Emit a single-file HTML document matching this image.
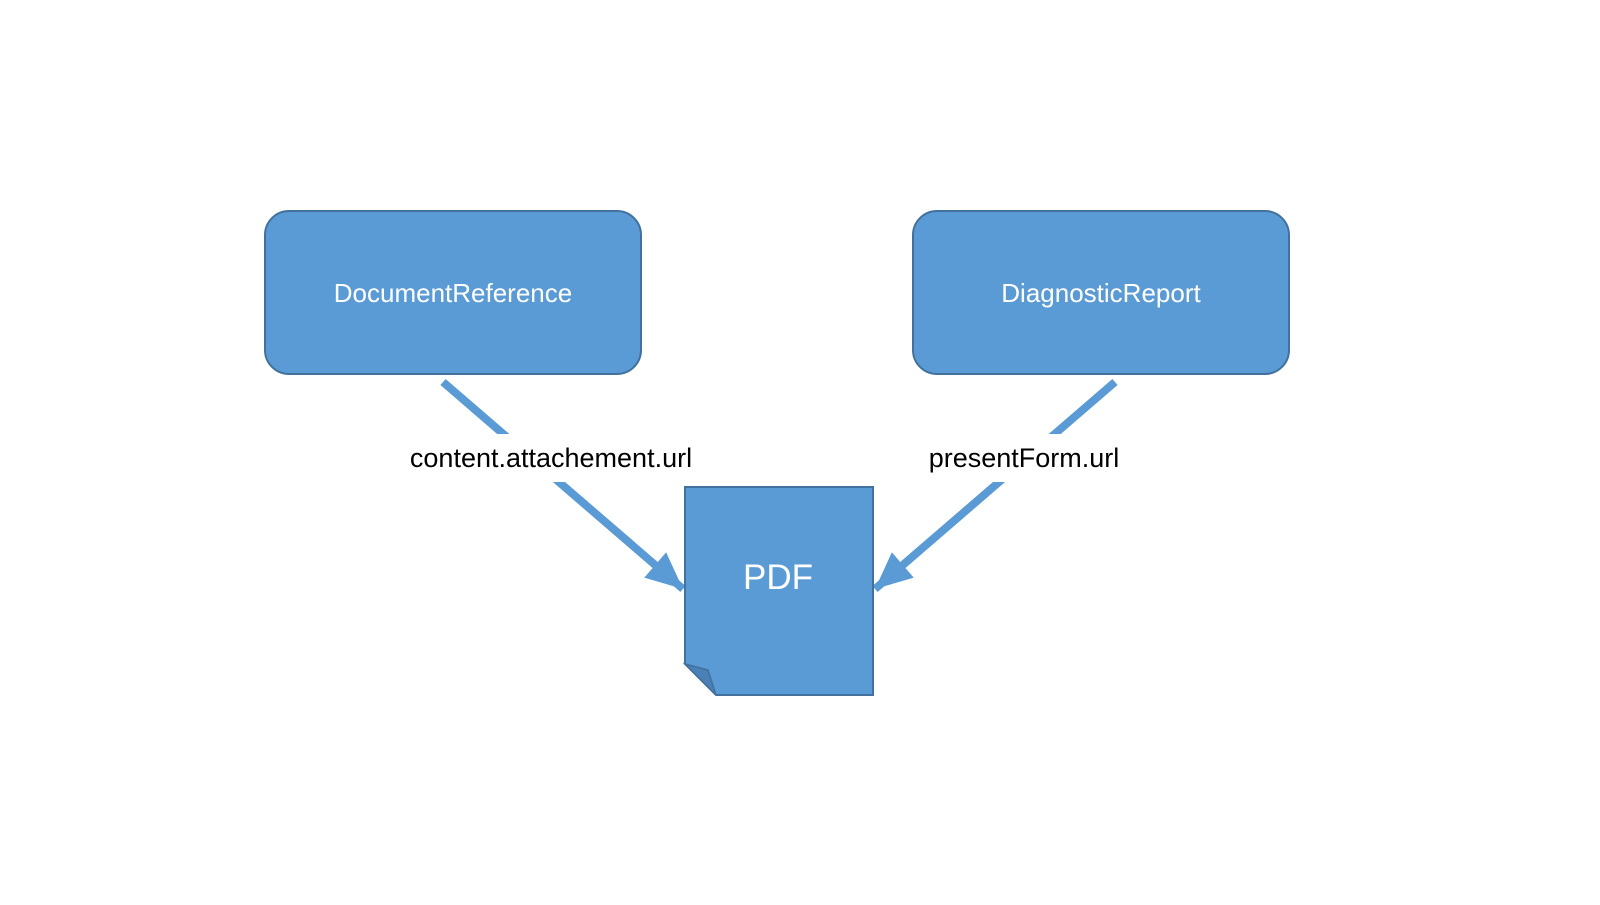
<!DOCTYPE html>
<html><head><style>body{margin:0;background:#fff}</style></head><body>
<svg width="1600" height="900" xmlns="http://www.w3.org/2000/svg" font-family="'Liberation Sans', sans-serif">
<defs><marker id="a" markerWidth="6" markerHeight="6" refX="4.6" refY="3" orient="auto" markerUnits="strokeWidth"><path d="M0,0.9 L4.6,3 L0,5.1 z" fill="#5b9bd5"/></marker></defs>
<rect x="265" y="211" width="376" height="163" rx="24" fill="#5b9bd5" stroke="#41719c" stroke-width="2"/>
<text x="453" y="302" font-size="26" fill="#fff" text-anchor="middle">DocumentReference</text>
<rect x="913" y="211" width="376" height="163" rx="24" fill="#5b9bd5" stroke="#41719c" stroke-width="2"/>
<text x="1101" y="302" font-size="26" fill="#fff" text-anchor="middle">DiagnosticReport</text>
<line x1="443" y1="382" x2="683" y2="589" stroke="#5b9bd5" stroke-width="8" marker-end="url(#a)"/>
<line x1="1115" y1="382" x2="875" y2="589" stroke="#5b9bd5" stroke-width="8" marker-end="url(#a)"/>
<rect x="395" y="434" width="312" height="48" fill="#fff"/>
<rect x="920" y="434" width="208" height="48" fill="#fff"/>
<text x="551" y="467" font-size="27" fill="#000" text-anchor="middle">content.attachement.url</text>
<text x="1024" y="467" font-size="27" fill="#000" text-anchor="middle">presentForm.url</text>
<path d="M685,487 L873,487 L873,695 L716,695 L685,664 z" fill="#5b9bd5" stroke="#41719c" stroke-width="2"/>
<path d="M685,664 L708,670 L716,695 z" fill="#4a80b5" stroke="#41719c" stroke-width="1.5"/>
<text x="778" y="589" font-size="35" fill="#fff" text-anchor="middle">PDF</text>
</svg>
</body></html>
